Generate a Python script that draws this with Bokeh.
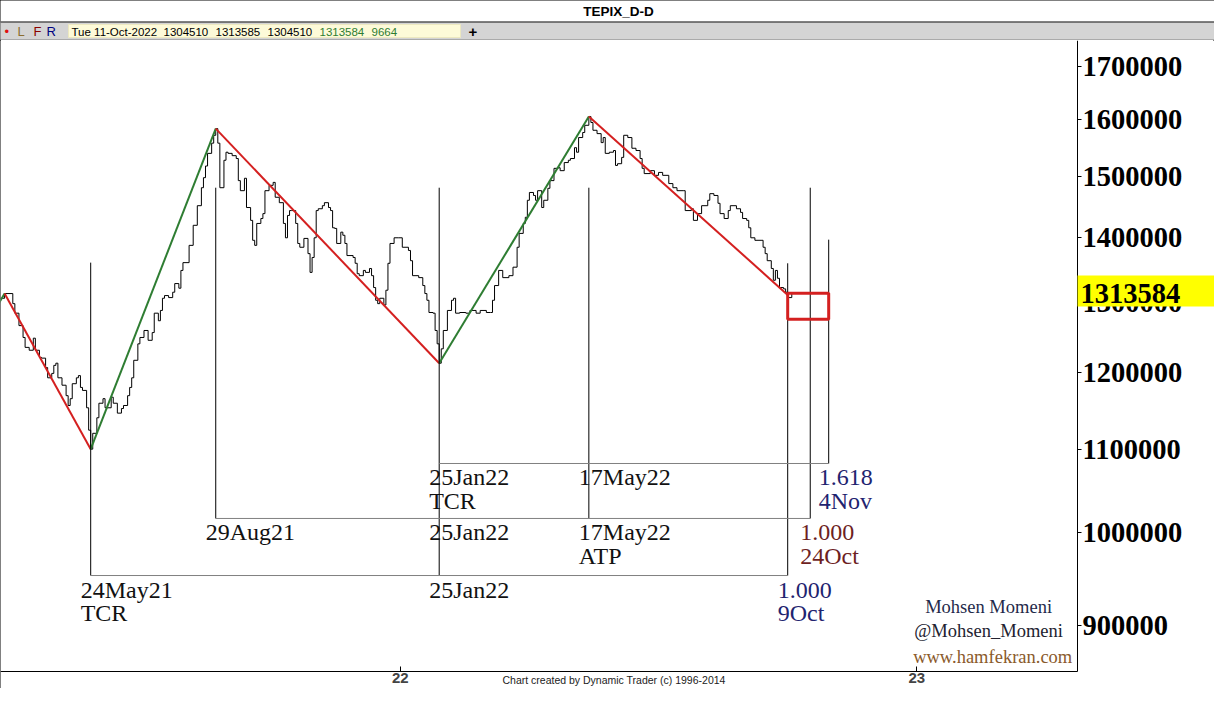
from bokeh.plotting import figure
from bokeh.layouts import column
from bokeh.models import Range1d, FixedTicker, NumeralTickFormatter
from bokeh.core.properties import value
from bokeh.embed import file_html
from bokeh.resources import INLINE

# ---------------- data ----------------
# trading-bar index of each sampled close (daily TEPIX, Apr-2021 .. 11-Oct-2022)
bars = [0, 2, 6, 7, 9, 11, 12, 14, 16, 17, 19, 20, 22, 23, 25, 26, 27, 28, 30, 32, 33, 34, 35, 37, 38, 39, 40, 42, 43, 44,
        45, 47, 48, 50, 51, 54, 55, 57, 59, 60, 62, 63, 64, 65, 67, 68, 70, 72, 74, 75, 77, 78, 79, 80, 82, 84, 85, 87, 88, 89,
        92, 94, 96, 98, 99, 100, 101, 103, 104, 105,
        106, 107, 109, 110, 111, 113, 115, 116, 117, 119, 120, 122, 123, 124, 125, 127, 128, 129, 131, 133,
        134, 136, 138, 139, 140, 141, 142, 144, 145, 146, 148, 150, 151, 152, 153, 154, 155, 157, 158, 160,
        161, 162, 163, 164, 166, 167, 168, 169, 172, 173, 174, 175, 177, 178, 180, 181, 182, 183, 184, 185,
        187, 188, 189, 190, 192, 194, 196, 199, 200, 201, 204, 206, 207, 208, 209, 211, 212, 213, 214,
        215, 216, 218, 220, 221, 222, 224, 227, 229, 232, 234, 237, 239, 240, 241, 243, 245, 248, 250, 252,
        253, 255, 256, 257, 258, 260, 261, 262, 264, 265, 267, 268, 270, 272, 273, 275, 277, 278, 280, 281,
        282, 284, 285, 287,
        288, 289, 291, 293, 294, 295, 297, 299, 300, 301, 303, 304, 306, 308, 310, 312, 313, 314, 317, 319,
        321, 323, 326, 328, 330, 333, 334, 337, 338, 340, 342, 345, 346, 348, 350, 351, 353, 355, 356, 359,
        361, 362, 364, 365, 366, 368, 371, 372, 373, 374, 376, 377, 378, 379, 380, 382, 383, 384, 386]

# closes in thousands of index points
closes_k = [1306, 1313, 1298, 1284, 1266, 1249, 1235, 1231, 1248, 1231, 1221, 1220, 1207, 1193, 1199, 1210, 1213, 1193,
            1183, 1169, 1156, 1165, 1185, 1193, 1196, 1180, 1176, 1153, 1124, 1100,
            1120, 1140, 1159, 1165, 1153, 1167, 1159, 1146, 1152, 1156, 1169, 1180, 1193, 1217, 1240, 1249, 1259, 1245,
            1256, 1284, 1273, 1288, 1306, 1310, 1307, 1315, 1328, 1321, 1348, 1360, 1387, 1419, 1451, 1481, 1498, 1518,
            1540, 1558, 1572, 1584,
            1558, 1481, 1528, 1542, 1540, 1536, 1531, 1493, 1476, 1497, 1448, 1427, 1395, 1387, 1422, 1430, 1438, 1476,
            1485, 1490, 1465, 1456, 1422, 1399, 1435, 1443, 1443, 1422, 1390, 1384, 1398, 1374, 1345, 1368, 1399, 1443,
            1446, 1451, 1456, 1448, 1443, 1415, 1414, 1390, 1408, 1403, 1390, 1371, 1368, 1359, 1343, 1340, 1348, 1345,
            1351, 1340, 1322, 1303, 1298, 1306, 1296, 1318, 1359, 1390, 1399, 1399, 1384, 1379, 1363, 1340, 1337, 1325,
            1313, 1303, 1285, 1284, 1259, 1240, 1213,
            1233, 1259, 1288, 1303, 1306, 1284, 1285, 1284, 1288, 1284, 1288, 1285, 1285, 1303, 1325, 1348, 1337, 1340,
            1353, 1384, 1406, 1422, 1432, 1460, 1473, 1468, 1460, 1476, 1448, 1460, 1480, 1493, 1514, 1515, 1510, 1524,
            1528, 1531, 1550, 1542, 1568, 1577, 1590, 1606,
            1595, 1581, 1575, 1559, 1568, 1540, 1542, 1545, 1519, 1522, 1533, 1572, 1568, 1549, 1545, 1531, 1514, 1505,
            1510, 1502, 1507, 1502, 1488, 1481, 1476, 1476, 1443, 1446, 1427, 1438, 1451, 1460, 1471, 1468, 1455, 1438,
            1430, 1443, 1451, 1446, 1440, 1430, 1427, 1415, 1399, 1395, 1395, 1384, 1374, 1363, 1351, 1333, 1348, 1336,
            1322, 1320, 1315, 1307, 1313.584]

# swing (zig-zag) pivots
zz_bars = [-10, 2, 44, 105, 214, 287, 384]
zz_prices = [1252000, 1313000, 1100000, 1584000, 1213000, 1606000, 1311000]

# time lines
time_names = ["24May21", "29Aug21", "25Jan22", "17May22", "9Oct", "24Oct", "4Nov"]
time_bars = [44, 105, 214, 287, 384, 395, 404]
time_tops = [1360000, 1481000, 1481000, 1481000, 1359000, 1481000, 1396000]
time_bottoms = [952700, 1016600, 952700, 1016600, 952700, 1016600, 1082200]

# time-projection brackets
bracket_levels = [952700, 1016600, 1082200]
bracket_start = [44, 105, 214]
bracket_end = [384, 395, 404]

# bracket labels
label_texts = ["24May21\nTCR", "29Aug21", "25Jan22\nTCR", "25Jan22", "25Jan22", "17May22", "17May22\nATP",
               "1.618\n4Nov", "1.000\n24Oct", "1.000\n9Oct"]
label_bars = [44, 105, 214, 214, 214, 287, 287, 404, 395, 384]
label_levels = [952700, 1016600, 1082200, 1016600, 952700, 1082200, 1016600, 1082200, 1016600, 952700]
label_colors = ["#111111", "#111111", "#111111", "#111111", "#111111", "#111111", "#111111",
                "#1f2470", "#6e1f1f", "#1f2470"]

# target box
box_start, box_end = 384, 404
box_high, box_low = 1313584, 1275000
last_price = 1313584

# axes
y_ticks = [900000, 1000000, 1100000, 1200000, 1300000, 1400000, 1500000, 1600000, 1700000]
x_ticks = [195, 447]
x_tick_labels = ["22", "23"]

# header
chart_title = "TEPIX_D-D"
header_flags = ["\u2022", "L", "F", "R"]
header_values = ["Tue 11-Oct-2022", "1304510", "1313585", "1304510", "1313584", "9664"]
signature = ["Mohsen Momeni", "@Mohsen_Momeni", "www.hamfekran.com"]
credit = "Chart created by Dynamic Trader  (c) 1996-2014"

closes = [c * 1000 for c in closes_k]

# ---------------- header strip (pixel-like units) ----------------
h = figure(width=1214, height=40, x_range=Range1d(0, 1214), y_range=Range1d(40, 0),
           output_backend="svg", toolbar_location=None, min_border=0)
h.frame_align = False
h.axis.visible = False
h.grid.visible = False
h.outline_line_color = None
h.quad(left=[0], right=[1214], top=[22], bottom=[38.5], fill_color="#d4d4d4", line_color=None)
h.quad(left=[68], right=[460], top=[24], bottom=[37], fill_color="#fdfad8", line_color="#ece8c0")
h.segment(x0=[0, 0], y0=[21.5, 39.5], x1=[1214, 1214], y1=[21.5, 39.5],
          line_color=["#000000", "#555555"], line_width=1)
h.text(x=[618], y=[10.5], text=[chart_title], text_align="center", text_baseline="middle",
       text_font=value("Liberation Sans"), text_font_style="bold", text_font_size="13.5px", text_color="#000000")
h.text(x=[4, 17, 33, 46], y=[31, 31, 31, 31], text=header_flags, text_align="left", text_baseline="middle",
       text_font=value("Liberation Sans"), text_font_size="13px",
       text_color=["#e01010", "#8b6d2f", "#8b0000", "#000080"])
h.text(x=[71, 163, 215, 267, 319, 371], y=[31] * 6, text=header_values, text_align="left", text_baseline="middle",
       text_font=value("Liberation Sans"), text_font_size="11.5px",
       text_color=["#000000", "#000000", "#000000", "#000000", "#2e7d32", "#2e7d32"])
h.text(x=[468], y=[31], text=["+"], text_align="left", text_baseline="middle",
       text_font=value("Liberation Sans"), text_font_style="bold", text_font_size="15px", text_color="#000000")

# ---------------- main chart ----------------
x_end = 592.2          # frame covers whole canvas; price area ends at bar 525.4
y_low, y_high = 837800, 1751000
p = figure(width=1214, height=648, x_range=Range1d(0, x_end), y_range=Range1d(y_low, y_high),
           y_axis_type="log", y_axis_location="right", output_backend="svg", toolbar_location=None,
           min_border=0)
p.frame_align = False
p.outline_line_color = None
p.grid.visible = False
p.background_fill_color = "white"
p.border_fill_color = "white"

ya = p.yaxis[0]
ya.fixed_location = 525.4
ya.bounds = (854200, y_high)
ya.ticker = FixedTicker(ticks=y_ticks)
ya.formatter = NumeralTickFormatter(format="0")
ya.major_label_text_font = "Liberation Serif"
ya.major_label_text_font_style = "bold"
ya.major_label_text_font_size = "28.5px"
ya.major_label_text_color = "#000000"
ya.major_tick_in = 0
ya.major_tick_out = 4
ya.major_label_standoff = 1
ya.minor_tick_line_color = None
ya.axis_line_color = "#000000"
ya.major_tick_line_color = "#000000"

xa = p.xaxis[0]
xa.fixed_location = 854200
xa.bounds = (0, 525.4)
xa.ticker = FixedTicker(ticks=x_ticks)
xa.major_label_overrides = dict(zip(x_ticks, x_tick_labels))
xa.major_label_text_font = "Liberation Sans"
xa.major_label_text_font_style = "bold"
xa.major_label_text_font_size = "15px"
xa.major_label_standoff = 2
xa.major_tick_in = 5
xa.major_tick_out = 0
xa.minor_tick_line_color = None
xa.axis_line_color = "#000000"

# price line
p.step(bars, closes, mode="after", line_color="#000000", line_width=1)

# zig-zag swings
zz_colors = ["#d42020" if b < a else "#2e7d32" for a, b in zip(zz_prices[:-1], zz_prices[1:])]
p.segment(x0=zz_bars[:-1], y0=zz_prices[:-1], x1=zz_bars[1:], y1=zz_prices[1:],
          line_color=zz_colors, line_width=2)

# vertical time lines
p.segment(x0=time_bars, y0=time_tops, x1=time_bars, y1=time_bottoms, line_color="#000000", line_width=1)

# brackets
p.segment(x0=bracket_start, y0=bracket_levels, x1=bracket_end, y1=bracket_levels,
          line_color="#808080", line_width=1)

# target box
p.quad(left=[box_start], right=[box_end], top=[box_high], bottom=[box_low],
       fill_color=None, line_color="#d42020", line_width=3)

# labels
p.text(x=label_bars, y=label_levels, text=label_texts, x_offset=-10, y_offset=1,
       text_align="left", text_baseline="top", text_font=value("Liberation Serif"),
       text_font_size="24px", text_color=label_colors, text_line_height=0.89)

# signature
p.text(x=[482, 482, 484], y=[919700, 894900, 868800], text=signature,
       text_align="center", text_baseline="middle", text_font=value("Liberation Serif"),
       text_font_size="18.5px", text_color=["#1f2a4a", "#222230", "#8a5a2b"])

# last price marker on the axis
r_box = p.quad(left=[525.4], right=[x_end], top=[1340200], bottom=[1293800],
               fill_color="#ffff00", line_color=None)
r_box.level = "overlay"
r_lp = p.text(x=[525.4], y=[last_price], text=[f"{last_price}"], x_offset=3, text_align="left",
              text_baseline="middle", text_font=value("Liberation Serif"), text_font_style="bold",
              text_font_size="28.5px", text_color="#000000")
r_lp.level = "overlay"

# credit line
p.text(x=[300], y=[846400], text=[credit], text_align="center", text_baseline="middle",
       text_font=value("Liberation Sans"), text_font_size="10.5px", text_color="#222222")

layout = column(h, p, spacing=0, styles={"outline": "1px solid #000", "outline-offset": "-1px"})

open("out.html", "w").write(file_html(layout, INLINE))
